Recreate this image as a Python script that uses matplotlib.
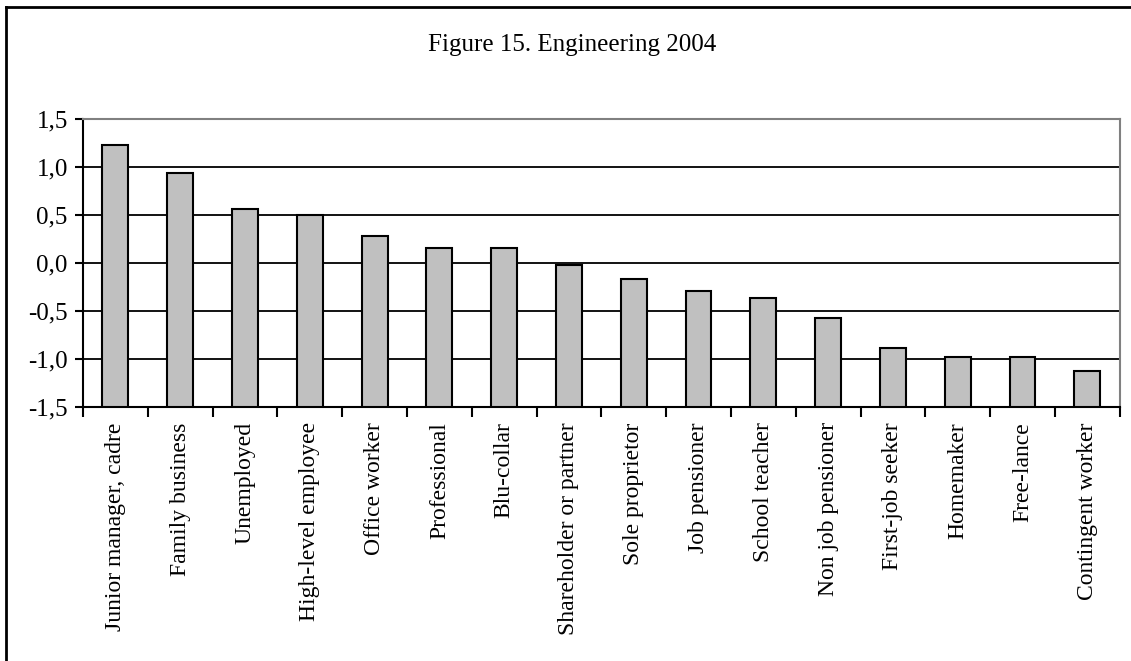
import matplotlib
matplotlib.use("Agg")
import matplotlib.pyplot as plt
from matplotlib.ticker import FuncFormatter, FixedLocator
from matplotlib.lines import Line2D

# Categories and values
categories = [
    "Junior manager, cadre", "Family business", "Unemployed",
    "High-level employee", "Office worker", "Professional", "Blu-collar",
    "Shareholder or partner", "Sole proprietor", "Job pensioner",
    "School teacher", "Non job pensioner", "First-job seeker",
    "Homemaker", "Free-lance", "Contingent worker",
]
values = [1.23, 0.94, 0.56, 0.50, 0.28, 0.16, 0.16, -0.02,
          -0.17, -0.29, -0.37, -0.57, -0.89, -0.98, -0.98, -1.13]
y_ticks = [-1.5, -1.0, -0.5, 0.0, 0.5, 1.0, 1.5]
y_min = -1.5

plt.rcParams["font.family"] = ["Liberation Serif", "DejaVu Serif"]

fig = plt.figure(figsize=(11.31, 6.61), dpi=100)
ax = fig.add_axes([0.0734, 0.3843, 0.9166, 0.4357])

x = list(range(len(categories)))
# Excel-style: bars grow from the axis minimum
heights = [v - y_min for v in values]
ax.bar(x, heights, width=0.4, bottom=y_min, color="#C0C0C0",
       edgecolor="black", linewidth=1.5, zorder=3)

ax.set_xlim(-0.5, len(categories) - 0.5)
ax.set_ylim(y_min, 1.5)

ax.yaxis.set_major_locator(FixedLocator(y_ticks))
ax.yaxis.set_major_formatter(FuncFormatter(lambda v, p: f"{v:.1f}".replace(".", ",")))
ax.grid(axis="y", color="black", linewidth=1.3, zorder=1)

# category ticks at boundaries, labels at centres
ax.set_xticks([i - 0.5 for i in range(len(categories) + 1)])
ax.set_xticklabels([])
ax.set_xticks(x, minor=True)
ax.set_xticklabels(categories, minor=True, rotation=90, fontsize=17,
                   va="top", ha="center")
ax.tick_params(axis="x", which="major", length=7, width=1.5, direction="out")
ax.tick_params(axis="x", which="minor", length=0, pad=11)
ax.tick_params(axis="y", length=6, width=1.5, direction="out", pad=5, labelsize=18)

for side in ["left", "bottom"]:
    ax.spines[side].set_color("black")
    ax.spines[side].set_linewidth(1.5)
for side in ["top", "right"]:
    ax.spines[side].set_color("#808080")
    ax.spines[side].set_linewidth(1.5)

fig.text(0.506, 0.932, "Figure 15. Engineering 2004", ha="center", va="center",
         fontsize=18)

# outer frame (only left and top edges fall inside the picture)
fig.add_artist(Line2D([6 / 1131, 6 / 1131], [0, 1 - 7 / 661], color="black",
                      linewidth=2, transform=fig.transFigure))
fig.add_artist(Line2D([6 / 1131, 1], [1 - 7 / 661, 1 - 7 / 661], color="black",
                      linewidth=2, transform=fig.transFigure))

fig.savefig("out.png", dpi=100, facecolor="white")
